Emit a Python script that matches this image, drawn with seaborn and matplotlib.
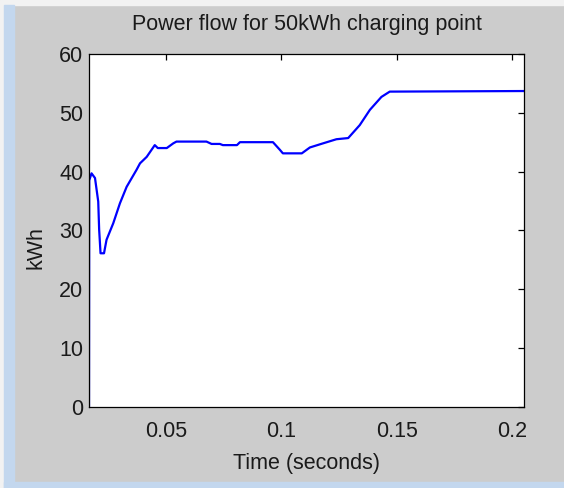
import matplotlib
matplotlib.use("Agg")
import matplotlib.pyplot as plt
from matplotlib.patches import Rectangle
import seaborn as sns

# ------------------------------------------------------------
# Data (time in s, power in kWh)
# ------------------------------------------------------------
time_s = [0.0166, 0.0167, 0.0177, 0.0192, 0.0199, 0.0206, 0.0210, 0.0216,
          0.0231, 0.0242, 0.0271, 0.0300, 0.0329, 0.0372, 0.0387, 0.0416,
          0.0451, 0.0464, 0.0503, 0.0531, 0.0545, 0.0675, 0.0697, 0.0733,
          0.0746, 0.0807, 0.0820, 0.0963, 0.0993, 0.1006, 0.1088, 0.1123,
          0.1180, 0.1238, 0.1289, 0.1339, 0.1383, 0.1433, 0.1469, 0.2052]
power_kwh = [0.0, 38.5, 39.7, 38.9, 36.9, 34.9, 30.1, 26.1,
             26.1, 28.4, 31.2, 34.6, 37.4, 40.3, 41.4, 42.5,
             44.5, 44.0, 44.0, 44.8, 45.1, 45.1, 44.7, 44.7,
             44.5, 44.5, 45.0, 45.0, 43.7, 43.1, 43.1, 44.1,
             44.8, 45.5, 45.7, 47.9, 50.5, 52.7, 53.6, 53.7]

x_ticks = [0.05, 0.1, 0.15, 0.2]
x_tick_labels = ["0.05", "0.1", "0.15", "0.2"]
y_ticks = [0, 10, 20, 30, 40, 50, 60]

# ------------------------------------------------------------
# Style (MATLAB-like figure window)
# ------------------------------------------------------------
sns.set_theme(style="white")
plt.rcParams["font.family"] = ["Liberation Sans", "DejaVu Sans"]
FS = 15.5

fig = plt.figure(figsize=(5.64, 4.88), dpi=100, facecolor="#cccccc")
W, H = 564, 488

# window decoration strips
fig.add_artist(Rectangle((0, 1 - 5 / H), 1, 5 / H, transform=fig.transFigure,
                         color="#f2f2f2", zorder=-1))
fig.add_artist(Rectangle((0, 0), 4 / W, 1, transform=fig.transFigure,
                         color="#f2f2f2", zorder=-1))
fig.add_artist(Rectangle((4 / W, 0), 10 / W, 1 - 5 / H, transform=fig.transFigure,
                         color="#c3d7ee", zorder=-1))
fig.add_artist(Rectangle((4 / W, 0), 1 - 4 / W, 6 / H, transform=fig.transFigure,
                         color="#c3d7ee", zorder=-1))

ax = fig.add_axes([89 / W, (H - 406.7) / H, (524.3 - 89) / W, (406.7 - 54) / H])
ax.set_facecolor("white")

sns.lineplot(x=time_s, y=power_kwh, ax=ax, color="#0000ff", linewidth=1.6,
             estimator=None, sort=False)

ax.set_xlim(0.0166, 0.2052)
ax.set_ylim(0, 60)
ax.set_xticks(x_ticks)
ax.set_xticklabels(x_tick_labels)
ax.set_yticks(y_ticks)

for side in ["top", "right", "bottom", "left"]:
    ax.spines[side].set_visible(True)
    ax.spines[side].set_color("black")
    ax.spines[side].set_linewidth(0.9)

ax.tick_params(direction="in", length=4, width=0.9, colors="black",
               top=True, right=True, labelsize=FS)
ax.tick_params(axis="x", pad=10)
ax.tick_params(axis="y", pad=4)
for lbl in ax.get_xticklabels() + ax.get_yticklabels():
    lbl.set_color("#1a1a1a")

ax.set_title("Power flow for 50kWh charging point", fontsize=FS, color="#1a1a1a", pad=17)
ax.set_xlabel("Time (seconds)", fontsize=FS, color="#1a1a1a", labelpad=8)
ax.set_ylabel("kWh", fontsize=FS, color="#1a1a1a")
ax.yaxis.set_label_coords(-0.098, 0.45)

fig.savefig("out.png", dpi=100, facecolor=fig.get_facecolor())
